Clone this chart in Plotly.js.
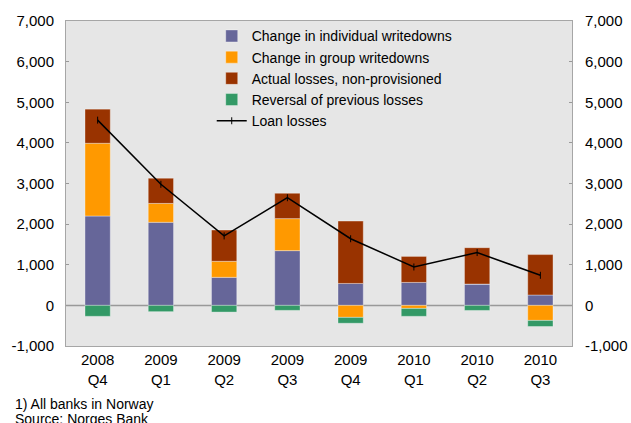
<!DOCTYPE html>
<html>
<head>
<meta charset="utf-8">
<script src="https://cdn.plot.ly/plotly-3.0.1.min.js"></script>
<style>
  html, body { margin: 0; padding: 0; background: #fff; }
  #myPlot { width: 631px; height: 423px; }
</style>
</head>
<body>
<div id="myPlot"></div>
<script>
var quarters = ["2008<br>Q4", "2009<br>Q1", "2009<br>Q2", "2009<br>Q3", "2009<br>Q4", "2010<br>Q1", "2010<br>Q2", "2010<br>Q3"];

var individualWritedowns = [2200, 2045, 690, 1347, 540, 565, 525, 255];
var groupWritedowns = [1790, 465, 395, 788, -295, -75, 0, -370];
var actualLosses = [840, 620, 770, 625, 1535, 640, 895, 995];
var reversals = [-270, -155, -165, -123, -145, -195, -125, -150];
var loanLosses = [4560, 2980, 1710, 2650, 1640, 945, 1300, 740];

var yTicks = [-1000, 0, 1000, 2000, 3000, 4000, 5000, 6000, 7000];
var yTickText = ["-1,000", "0", "1,000", "2,000", "3,000", "4,000", "5,000", "6,000", "7,000"];

var font = "Liberation Sans, Arial, sans-serif";

function bar(name, values, color) {
    return {
        type: "bar", name: name, x: quarters, y: values,
        marker: {color: color, line: {color: "rgba(255,255,255,0.35)", width: 1}},
        hoverinfo: "skip"
    };
}

var data = [
    bar("Change in individual writedowns", individualWritedowns, "#666699"),
    bar("Change in group writedowns", groupWritedowns, "#ff9900"),
    bar("Actual losses, non-provisioned", actualLosses, "#993300"),
    bar("Reversal of previous losses", reversals, "#339966"),
    {
        type: "scatter", mode: "lines+markers", name: "Loan losses",
        x: quarters, y: loanLosses, yaxis: "y2",
        line: {color: "#000", width: 1.5},
        marker: {symbol: "line-ns-open", size: 5, color: "#000", line: {color: "#000", width: 1}}
    }
];

var yAxisBase = {
    range: [-1000, 7000], tickvals: yTicks, ticktext: yTickText,
    showgrid: false, zeroline: false, fixedrange: true,
    ticks: "inside", ticklen: 3, tickcolor: "#999",
    tickfont: {family: font, size: 15, color: "#000"}
};

var layout = {
    width: 631, height: 423,
    margin: {l: 66, r: 59, t: 21, b: 77},
    paper_bgcolor: "#fff",
    plot_bgcolor: "#e6e6e6",
    barmode: "relative",
    bargap: 0.6,
    showlegend: true,
    legend: {
        x: 0.288, y: 1.002, xanchor: "left", yanchor: "top",
        bgcolor: "rgba(0,0,0,0)", traceorder: "normal",
        font: {family: font, size: 14, color: "#000"}
    },
    xaxis: {
        showline: true, mirror: true, linecolor: "#a6a6a6", linewidth: 1,
        ticks: "", showgrid: false,
        tickfont: {family: font, size: 15, color: "#000"}
    },
    yaxis: Object.assign({}, yAxisBase, {
        side: "left", showline: true, mirror: true, linecolor: "#a6a6a6", linewidth: 1,
        ticklabelstandoff: 8
    }),
    yaxis2: Object.assign({}, yAxisBase, {
        side: "right", overlaying: "y", showline: false,
        ticklabelstandoff: 12
    }),
    shapes: [{
        type: "line", xref: "paper", x0: 0, x1: 1, yref: "y", y0: 0, y1: 0,
        line: {color: "#999", width: 1.5}, layer: "below"
    }],
    annotations: [
        {xref: "paper", yref: "paper", x: -0.099, y: 1, xanchor: "left", yanchor: "bottom", yshift: 20,
         text: "Quarterly figures. In millions of NOK 1)", showarrow: false,
         font: {family: font, size: 17, color: "#333"}},
        {xref: "paper", yref: "paper", x: -0.105, y: 0, xanchor: "left", yanchor: "top", yshift: -48,
         text: "1) All banks in Norway", showarrow: false, align: "left",
         font: {family: font, size: 14, color: "#000"}},
        {xref: "paper", yref: "paper", x: -0.105, y: 0, xanchor: "left", yanchor: "top", yshift: -63,
         text: "Source: Norges Bank", showarrow: false, align: "left",
         font: {family: font, size: 14, color: "#000"}}
    ]
};

Plotly.newPlot("myPlot", data, layout, {displayModeBar: false, staticPlot: true});
</script>
</body>
</html>
